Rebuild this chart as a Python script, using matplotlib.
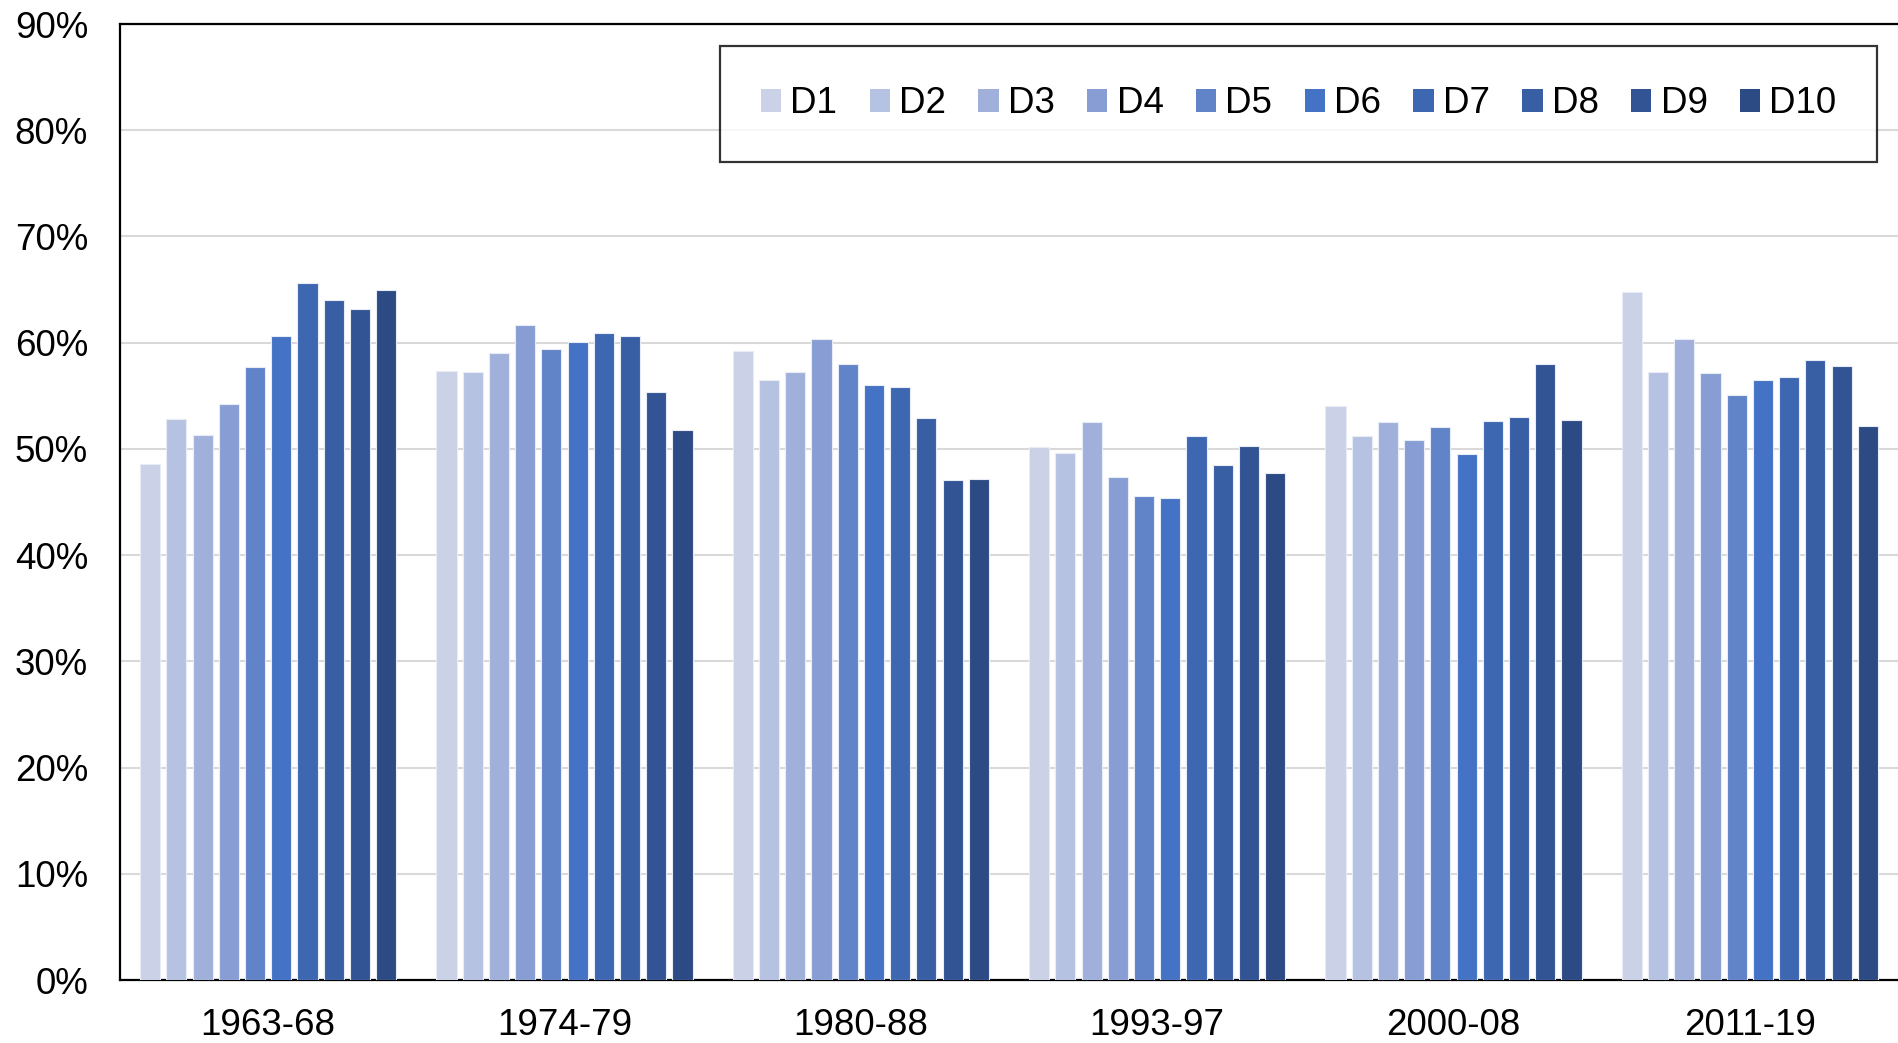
import numpy as np
import matplotlib
matplotlib.use('Agg')
import matplotlib.pyplot as plt
from matplotlib.patches import Patch

plt.rcParams['font.family'] = ['Liberation Sans', 'DejaVu Sans']

periods = ['1963-68', '1974-79', '1980-88', '1993-97', '2000-08', '2011-19']
deciles = ['D1', 'D2', 'D3', 'D4', 'D5', 'D6', 'D7', 'D8', 'D9', 'D10']

# share (%) per decile, one list per period
p1963_68 = [48.6, 52.8, 51.3, 54.2, 57.7, 60.6, 65.6, 64.0, 63.2, 65.0]
p1974_79 = [57.3, 57.2, 59.0, 61.7, 59.4, 60.1, 60.9, 60.6, 55.4, 51.8]
p1980_88 = [59.2, 56.5, 57.2, 60.3, 58.0, 56.0, 55.8, 52.9, 47.1, 47.2]
p1993_97 = [50.2, 49.6, 52.5, 47.4, 45.6, 45.4, 51.2, 48.5, 50.3, 47.7]
p2000_08 = [54.0, 51.2, 52.5, 50.8, 52.1, 49.5, 52.6, 53.0, 58.0, 52.7]
p2011_19 = [64.8, 57.2, 60.3, 57.1, 55.1, 56.5, 56.8, 58.4, 57.8, 52.2]

colors = ['#CBD1E6', '#B6C2E1', '#A0B0DA', '#879DD3', '#6183C8',
          '#4472C4', '#3E67B1', '#385EA4', '#325494', '#2C4A83']

values = np.array([p1963_68, p1974_79, p1980_88, p1993_97, p2000_08, p2011_19])

fig = plt.figure(figsize=(18.98, 10.43), dpi=100)
ax = fig.add_axes([120 / 1898, 63 / 1043, 1 - 120 / 1898, (980 - 24) / 1043])

x = np.arange(len(periods))
pitch = 0.0885
width = 0.068
for i, d in enumerate(deciles):
    offs = (i - 4.5) * pitch
    ax.bar(x + offs, values[:, i], width=width, color=colors[i],
           edgecolor='#E8ECF6', linewidth=0.8, label=d, zorder=3)

ax.set_xlim(-0.5, 5.5)
ax.set_ylim(0, 90)
ax.set_yticks(np.arange(0, 91, 10))
ax.set_yticklabels([f'{v}%' for v in range(0, 91, 10)])
ax.set_xticks(x)
ax.set_xticklabels(periods)
ax.tick_params(axis='both', length=0, labelsize=26.5, colors='black')
ax.tick_params(axis='y', pad=23)
ax.tick_params(axis='x', pad=20)
ax.grid(axis='y', color='#D9D9D9', linewidth=1.5, zorder=0)
ax.set_axisbelow(True)
for s in ['left', 'bottom', 'top']:
    ax.spines[s].set_color('black')
    ax.spines[s].set_linewidth(1.6)
ax.spines['right'].set_visible(False)

handles = [Patch(facecolor=c, edgecolor='none') for c in colors]
leg = fig.legend(handles, deciles, loc='upper right',
                 bbox_to_anchor=(1877 / 1898, (1043 - 46) / 1043),
                 ncol=10, fontsize=26.5, frameon=True, fancybox=False,
                 edgecolor='black', handlelength=0.55, handleheight=0.55,
                 handletextpad=0.25, columnspacing=0.88, borderpad=1.1,
                 borderaxespad=0)
leg.get_frame().set_linewidth(1.6)

fig.savefig('out.png', dpi=100)
